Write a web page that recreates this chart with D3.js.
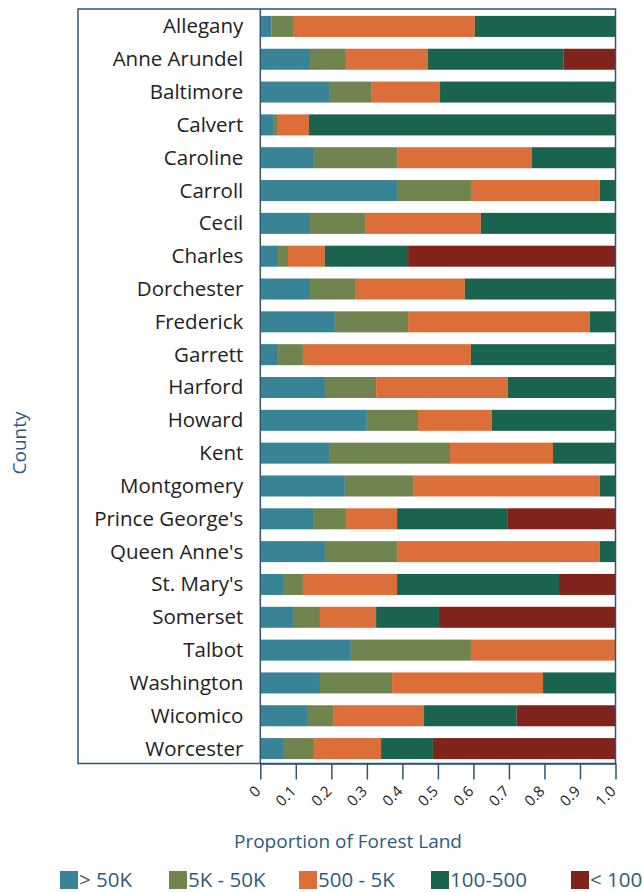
<!DOCTYPE html>
<html>
<head>
<meta charset="utf-8">
<script src="https://cdn.jsdelivr.net/npm/d3@7"></script>
<style>
  html, body { margin: 0; padding: 0; background: #fff; }
  svg { display: block; }
  text { font-family: "Open Sans", Lato, sans-serif; }
</style>
</head>
<body>
<svg id="chart" width="643" height="892"></svg>
<script>
const counties = ["Allegany","Anne Arundel","Baltimore","Calvert","Caroline","Carroll","Cecil","Charles","Dorchester","Frederick","Garrett","Harford","Howard","Kent","Montgomery","Prince George's","Queen Anne's","St. Mary's","Somerset","Talbot","Washington","Wicomico","Worcester"];
const seriesNames = ["> 50K","5K - 50K","500 - 5K","100-500","< 100"];
const seriesColors = ["#388396","#70844f","#dc6f39","#1a634f","#80231a"];
const over50K   = [0.032,0.140,0.196,0.036,0.151,0.385,0.140,0.050,0.140,0.210,0.047,0.182,0.300,0.196,0.238,0.151,0.182,0.064,0.092,0.255,0.168,0.134,0.064];
const k5to50K   = [0.060,0.101,0.118,0.011,0.236,0.208,0.157,0.028,0.129,0.206,0.073,0.144,0.144,0.338,0.192,0.090,0.205,0.056,0.076,0.338,0.203,0.073,0.087];
const h500to5K  = [0.512,0.231,0.192,0.090,0.378,0.363,0.324,0.104,0.307,0.512,0.473,0.371,0.208,0.290,0.526,0.144,0.569,0.265,0.158,0.407,0.425,0.254,0.189];
const h100to500 = [0.396,0.381,0.494,0.863,0.235,0.044,0.379,0.234,0.424,0.072,0.407,0.303,0.348,0.176,0.044,0.312,0.044,0.456,0.177,0.000,0.204,0.261,0.146];
const under100  = [0.000,0.147,0.000,0.000,0.000,0.000,0.000,0.584,0.000,0.000,0.000,0.000,0.000,0.000,0.000,0.303,0.000,0.159,0.497,0.000,0.000,0.278,0.514];
const xTicks = [0,0.1,0.2,0.3,0.4,0.5,0.6,0.7,0.8,0.9,1.0];
const xTickLabels = ["0","0.1","0.2","0.3","0.4","0.5","0.6","0.7","0.8","0.9","1.0"];

const seriesArrays = [over50K, k5to50K, h500to5K, h100to500, under100];
const rows = counties.map((c, i) => {
  const r = { county: c };
  seriesNames.forEach((s, j) => r[s] = seriesArrays[j][i]);
  return r;
});

const svg = d3.select("#chart");
const axisColor = "#2c5576";
const titleColor = "#2e5b7e";
const font = '"Open Sans", Lato, sans-serif';

const x = d3.scaleLinear().domain([0, 1]).range([260.3, 615.5]);
const y = d3.scaleBand().domain(counties).range([10, 765]).paddingInner(0.36).paddingOuter(0.18);
const color = d3.scaleOrdinal().domain(seriesNames).range(seriesColors);

const stacked = d3.stack().keys(seriesNames)(rows);

// bars
svg.append("g").selectAll("g").data(stacked).join("g")
  .attr("fill", d => color(d.key))
  .selectAll("rect").data(d => d).join("rect")
  .attr("x", d => x(d[0]))
  .attr("y", d => y(d.data.county))
  .attr("width", d => Math.max(0, x(d[1]) - x(d[0])))
  .attr("height", y.bandwidth());

// frame
svg.append("rect")
  .attr("x", 78).attr("y", 9)
  .attr("width", x(1) - 78).attr("height", 763.5 - 9)
  .attr("fill", "none").attr("stroke", axisColor).attr("stroke-width", 1.5);

// y axis line
svg.append("line")
  .attr("x1", x(0)).attr("x2", x(0)).attr("y1", 9).attr("y2", 763.5)
  .attr("stroke", axisColor).attr("stroke-width", 1.5);

// y labels
const yAxis = d3.axisLeft(y).tickSize(0).tickPadding(17);
const gy = svg.append("g").attr("transform", `translate(${x(0)},0)`).call(yAxis);
gy.select(".domain").remove();
gy.selectAll("text").attr("font-size", 20.5).attr("fill", "#222").style("font-family", font).attr("dy", "0.34em");

// x axis
const xAxis = d3.axisBottom(x).tickValues(xTicks).tickFormat((d, i) => xTickLabels[i]).tickSize(16).tickSizeOuter(0);
const gx = svg.append("g").attr("transform", `translate(0,763.5)`).call(xAxis);
gx.select(".domain").attr("stroke", axisColor).attr("stroke-width", 1.5);
gx.selectAll(".tick line").attr("stroke", axisColor).attr("stroke-width", 1.5);
gx.selectAll(".tick text")
  .attr("font-size", 15).attr("fill", "#222")
  .style("font-family", font)
  .attr("text-anchor", "end")
  .attr("dy", "0.35em")
  .attr("transform", "translate(-3,25) rotate(-45)")
  .attr("y", 0).attr("x", 0);

// axis titles
svg.append("text")
  .attr("x", 348).attr("y", 848)
  .attr("text-anchor", "middle").attr("font-size", 19).attr("fill", titleColor)
  .text("Proportion of Forest Land");
svg.append("text")
  .attr("transform", "translate(26,443) rotate(-90)")
  .attr("text-anchor", "middle").attr("font-size", 19).attr("fill", titleColor)
  .text("County");

// legend
const legendX = [60, 169, 299, 431, 571];
const lg = svg.append("g").selectAll("g").data(seriesNames).join("g")
  .attr("transform", (d, i) => `translate(${legendX[i]},871)`);
lg.append("rect").attr("width", 18).attr("height", 18).attr("fill", d => color(d));
lg.append("text").attr("x", 19).attr("y", 9).attr("dy", "0.36em")
  .attr("font-size", 20.5).attr("fill", titleColor).text(d => d);
</script>
</body>
</html>
